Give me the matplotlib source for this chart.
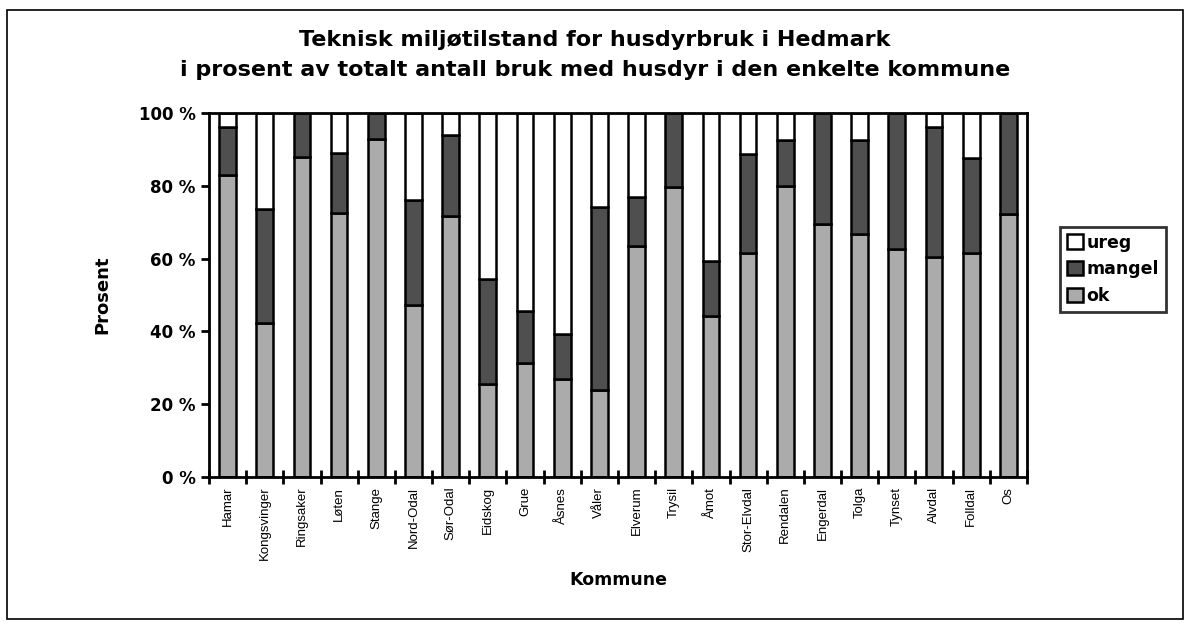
import numpy as np
import matplotlib.pyplot as plt
from matplotlib.patches import Rectangle

plt.rcParams['font.family'] = ['Liberation Sans', 'DejaVu Sans']

kommuner = ["Hamar", "Kongsvinger", "Ringsaker", "Løten", "Stange", "Nord-Odal",
            "Sør-Odal", "Eidskog", "Grue", "Åsnes", "Våler", "Elverum", "Trysil",
            "Åmot", "Stor-Elvdal", "Rendalen", "Engerdal", "Tolga", "Tynset",
            "Alvdal", "Folldal", "Os"]
ok = np.array([83.0, 42.4, 88.0, 72.4, 92.9, 47.3, 71.7, 25.5, 31.2, 26.8, 24.0,
               63.5, 79.6, 44.2, 61.5, 80.0, 69.5, 66.8, 62.5, 60.5, 61.4, 72.3])
mangel = np.array([13.2, 31.2, 12.0, 16.7, 7.1, 28.8, 22.3, 28.8, 14.4, 12.4, 50.1,
                   13.5, 20.4, 15.0, 27.2, 12.7, 30.5, 25.9, 37.5, 35.7, 26.1, 27.7])
ureg = 100 - ok - mangel

# wide bold face for the horizontal texts (scan looks stretched)
wide = ['DejaVu Sans']

fig = plt.figure(figsize=(11.9, 6.29), dpi=100)
ax = fig.add_axes([0.1756, 0.2417, 0.6874, 0.5787])

x = np.arange(len(kommuner))
w = 0.45
ax.bar(x, ok, w, color='#ababab', edgecolor='black', linewidth=1.8, label='ok')
ax.bar(x, mangel, w, bottom=ok, color='#4f4f4f', edgecolor='black', linewidth=1.8, label='mangel')
ax.bar(x, ureg, w, bottom=ok + mangel, color='white', edgecolor='black', linewidth=1.8, label='ureg')

ax.set_xlim(-0.5, len(kommuner) - 0.5)
ax.set_ylim(0, 100)
ax.set_yticks([0, 20, 40, 60, 80, 100])
ax.set_yticklabels(['%d %%' % v for v in [0, 20, 40, 60, 80, 100]],
                   fontsize=12, fontweight='bold', family=wide)
ax.tick_params(axis='y', direction='out', length=6, width=2)

ax.set_xticks(x)
ax.set_xticklabels(kommuner, rotation=90, fontsize=9.5)
ax.tick_params(axis='x', length=0, pad=7)
ax.set_xticks(np.arange(-0.5, len(kommuner), 1), minor=True)
ax.tick_params(axis='x', which='minor', direction='inout', length=10, width=2)

for s in ax.spines.values():
    s.set_linewidth(2)

ax.set_ylabel('Prosent', fontsize=13, fontweight='bold', family=wide, labelpad=20)
ax.set_xlabel('Kommune', fontsize=12.5, fontweight='bold', family=wide, labelpad=8)

fig.text(0.5, 0.936, 'Teknisk miljøtilstand for husdyrbruk i Hedmark',
         ha='center', va='center', fontsize=16, fontweight='bold', family=wide)
fig.text(0.5, 0.889, 'i prosent av totalt antall bruk med husdyr i den enkelte kommune',
         ha='center', va='center', fontsize=16, fontweight='bold', family=wide)

h, l = ax.get_legend_handles_labels()
leg = fig.legend(h[::-1], l[::-1], loc='center left', bbox_to_anchor=(0.891, 0.572),
                 frameon=True, fancybox=False, edgecolor='black',
                 prop={'size': 12.5, 'weight': 'bold', 'family': wide}, handlelength=0.9,
                 handleheight=0.9, handletextpad=0.2, borderpad=0.4,
                 labelspacing=0.5, borderaxespad=0)
leg.get_frame().set_linewidth(2)

fig.patches.append(Rectangle((0.006, 0.016), 0.988, 0.968, transform=fig.transFigure,
                             fill=False, edgecolor='black', linewidth=1.2))

fig.savefig('out.png', dpi=100)
